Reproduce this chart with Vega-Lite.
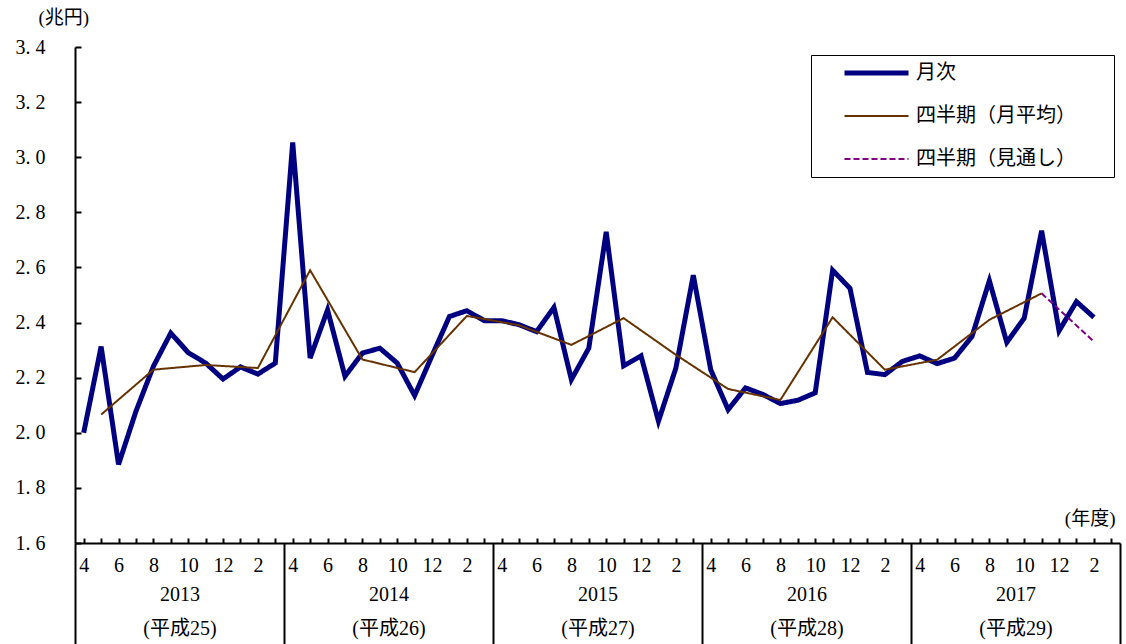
{
  "$schema": "https://vega.github.io/schema/vega-lite/v6.json",
  "width": 1045,
  "height": 496,
  "autosize": "none",
  "padding": {"left": 75, "top": 47, "right": 6, "bottom": 101},
  "background": "white",
  "config": {
    "view": {"stroke": null},
    "axis": {
      "grid": false,
      "labelFont": "'Liberation Serif', 'Noto Sans CJK JP'",
      "titleFont": "'Liberation Serif', 'Noto Sans CJK JP'",
      "labelColor": "black",
      "titleColor": "black",
      "domainColor": "black",
      "tickColor": "black",
      "titleFontWeight": "normal",
      "labelFontSize": 20,
      "labelFlush": false,
      "labelOverlap": false
    }
  },
  "data": {
    "values": [
      {"series": "月次", "t": 0, "value": 2.0},
      {"series": "月次", "t": 1, "value": 2.313},
      {"series": "月次", "t": 2, "value": 1.885},
      {"series": "月次", "t": 3, "value": 2.078},
      {"series": "月次", "t": 4, "value": 2.241},
      {"series": "月次", "t": 5, "value": 2.362},
      {"series": "月次", "t": 6, "value": 2.291},
      {"series": "月次", "t": 7, "value": 2.253},
      {"series": "月次", "t": 8, "value": 2.195},
      {"series": "月次", "t": 9, "value": 2.239},
      {"series": "月次", "t": 10, "value": 2.213},
      {"series": "月次", "t": 11, "value": 2.253},
      {"series": "月次", "t": 12, "value": 3.054},
      {"series": "月次", "t": 13, "value": 2.271},
      {"series": "月次", "t": 14, "value": 2.446},
      {"series": "月次", "t": 15, "value": 2.205},
      {"series": "月次", "t": 16, "value": 2.289},
      {"series": "月次", "t": 17, "value": 2.307},
      {"series": "月次", "t": 18, "value": 2.253},
      {"series": "月次", "t": 19, "value": 2.135},
      {"series": "月次", "t": 20, "value": 2.28},
      {"series": "月次", "t": 21, "value": 2.422},
      {"series": "月次", "t": 22, "value": 2.443},
      {"series": "月次", "t": 23, "value": 2.407},
      {"series": "月次", "t": 24, "value": 2.407},
      {"series": "月次", "t": 25, "value": 2.392},
      {"series": "月次", "t": 26, "value": 2.367},
      {"series": "月次", "t": 27, "value": 2.455},
      {"series": "月次", "t": 28, "value": 2.193},
      {"series": "月次", "t": 29, "value": 2.307},
      {"series": "月次", "t": 30, "value": 2.729},
      {"series": "月次", "t": 31, "value": 2.243},
      {"series": "月次", "t": 32, "value": 2.279},
      {"series": "月次", "t": 33, "value": 2.042},
      {"series": "月次", "t": 34, "value": 2.235},
      {"series": "月次", "t": 35, "value": 2.572},
      {"series": "月次", "t": 36, "value": 2.229},
      {"series": "月次", "t": 37, "value": 2.084},
      {"series": "月次", "t": 38, "value": 2.163},
      {"series": "月次", "t": 39, "value": 2.139},
      {"series": "月次", "t": 40, "value": 2.106},
      {"series": "月次", "t": 41, "value": 2.118},
      {"series": "月次", "t": 42, "value": 2.145},
      {"series": "月次", "t": 43, "value": 2.59},
      {"series": "月次", "t": 44, "value": 2.524},
      {"series": "月次", "t": 45, "value": 2.219},
      {"series": "月次", "t": 46, "value": 2.211},
      {"series": "月次", "t": 47, "value": 2.259},
      {"series": "月次", "t": 48, "value": 2.279},
      {"series": "月次", "t": 49, "value": 2.251},
      {"series": "月次", "t": 50, "value": 2.271},
      {"series": "月次", "t": 51, "value": 2.349},
      {"series": "月次", "t": 52, "value": 2.552},
      {"series": "月次", "t": 53, "value": 2.328},
      {"series": "月次", "t": 54, "value": 2.416},
      {"series": "月次", "t": 55, "value": 2.733},
      {"series": "月次", "t": 56, "value": 2.37},
      {"series": "月次", "t": 57, "value": 2.476},
      {"series": "月次", "t": 58, "value": 2.419},
      {"series": "四半期（月平均）", "t": 1, "value": 2.066},
      {"series": "四半期（月平均）", "t": 4, "value": 2.229},
      {"series": "四半期（月平均）", "t": 7, "value": 2.246},
      {"series": "四半期（月平均）", "t": 10, "value": 2.235},
      {"series": "四半期（月平均）", "t": 13, "value": 2.59},
      {"series": "四半期（月平均）", "t": 16, "value": 2.266},
      {"series": "四半期（月平均）", "t": 19, "value": 2.22},
      {"series": "四半期（月平均）", "t": 22, "value": 2.424},
      {"series": "四半期（月平均）", "t": 25, "value": 2.39},
      {"series": "四半期（月平均）", "t": 28, "value": 2.319},
      {"series": "四半期（月平均）", "t": 31, "value": 2.416},
      {"series": "四半期（月平均）", "t": 34, "value": 2.283},
      {"series": "四半期（月平均）", "t": 37, "value": 2.159},
      {"series": "四半期（月平均）", "t": 40, "value": 2.119},
      {"series": "四半期（月平均）", "t": 43, "value": 2.419},
      {"series": "四半期（月平均）", "t": 46, "value": 2.229},
      {"series": "四半期（月平均）", "t": 49, "value": 2.265},
      {"series": "四半期（月平均）", "t": 52, "value": 2.41},
      {"series": "四半期（月平均）", "t": 55, "value": 2.506},
      {"series": "四半期（見通し）", "t": 55, "value": 2.506},
      {"series": "四半期（見通し）", "t": 58, "value": 2.331}
    ]
  },
  "encoding": {
    "y": {
      "field": "value",
      "type": "quantitative",
      "scale": {"domain": [1.6, 3.4], "nice": false, "zero": false},
      "axis": {
        "orient": "left",
        "values": [1.6, 1.8, 2.0, 2.2, 2.4, 2.6, 2.8, 3.0, 3.2, 3.4],
        "labelExpr": "replace(format(datum.value, '.1f'), '.', '. ')",
        "labelFont": "'Liberation Serif', 'Noto Sans CJK JP'",
        "labelFontSize": 20,
        "tickSize": -6,
        "tickWidth": 2,
        "domainWidth": 2,
        "labelPadding": 36,
        "title": "(兆円)",
        "titleFont": "'Liberation Serif', 'Noto Sans CJK JP'",
        "titleAngle": 0,
        "titleAlign": "left",
        "titleBaseline": "middle",
        "titleX": -37,
        "titleY": -30,
        "titleFontSize": 19
      }
    },
    "color": {
      "field": "series",
      "type": "nominal",
      "scale": {
        "domain": ["月次", "四半期（月平均）", "四半期（見通し）"],
        "range": ["#000080", "#663300", "#800080"]
      },
      "legend": {
        "title": null,
        "orient": "none",
        "legendX": 736,
        "legendY": 8,
        "direction": "vertical",
        "fillColor": "white",
        "strokeColor": "black",
        "padding": 8,
        "symbolOffset": 23,
        "symbolType": "stroke",
        "symbolSize": 4096,
        "clipHeight": 20,
        "labelFont": "'Liberation Serif', 'Noto Sans CJK JP'",
        "labelFontSize": 20,
        "labelColor": "black",
        "labelOffset": 5,
        "labelLimit": 400,
        "labelExpr": "datum.label + '\u2800\u2800'",
        "rowPadding": 23
      }
    },
    "strokeDash": {
      "field": "series",
      "type": "nominal",
      "scale": {
        "domain": ["月次", "四半期（月平均）", "四半期（見通し）"],
        "range": [[1, 0], [1, 0], [6, 3]]
      }
    },
    "strokeWidth": {
      "field": "series",
      "type": "nominal",
      "scale": {
        "type": "ordinal",
        "domain": ["月次", "四半期（月平均）", "四半期（見通し）"],
        "range": [5, 2, 2]
      }
    }
  },
  "layer": [
    {
      "transform": [{"filter": "datum.series === '月次'"}],
      "mark": {"type": "line"},
      "encoding": {
        "x": {
          "field": "t",
          "type": "quantitative",
          "scale": {"domain": [-0.5, 59.5], "nice": false, "zero": false},
          "axis": {
            "orient": "bottom",
            "values": [0,1,2,3,4,5,6,7,8,9,10,11,12,13,14,15,16,17,18,19,20,21,22,23,24,25,26,27,28,29,30,31,32,33,34,35,36,37,38,39,40,41,42,43,44,45,46,47,48,49,50,51,52,53,54,55,56,57,58,59],
            "labelExpr": "datum.value % 2 == 0 ? '' + ((datum.value + 3) % 12 + 1) : ''",
            "labelFont": "'Liberation Serif', 'Noto Sans CJK JP'",
            "labelFontSize": 20,
            "tickSize": -5,
            "tickWidth": 2,
            "domainWidth": 2,
            "labelPadding": 17,
            "title": null
          }
        }
      }
    },
    {
      "transform": [{"filter": "datum.series === '四半期（月平均）'"}],
      "mark": {"type": "line"},
      "encoding": {
        "x": {
          "field": "t",
          "type": "quantitative",
          "scale": {"domain": [-0.5, 59.5], "nice": false, "zero": false},
          "axis": {
            "orient": "bottom",
            "values": [5.5, 17.5, 29.5, 41.5, 53.5],
            "labelExpr": "['' + (2013 + (datum.value - 5.5) / 12), '(平成' + (25 + (datum.value - 5.5) / 12) + ')']",
            "labelFont": "'Liberation Serif', 'Noto Sans CJK JP'",
            "labelFontSize": 20,
            "labelLineHeight": 34,
            "labelBaseline": "top",
            "ticks": false,
            "domain": false,
            "labelPadding": 41,
            "title": null
          }
        }
      }
    },
    {
      "transform": [{"filter": "datum.series === '四半期（見通し）'"}],
      "mark": {"type": "line"},
      "encoding": {
        "x": {
          "field": "t",
          "type": "quantitative",
          "scale": {"domain": [-0.5, 59.5], "nice": false, "zero": false},
          "axis": {
            "orient": "bottom",
            "values": [-0.5, 11.5, 23.5, 35.5, 47.5, 59.5],
            "tickSize": 101,
            "tickWidth": 2,
            "domain": false,
            "labels": false,
            "title": "(年度)",
            "titleFont": "'Liberation Serif', 'Noto Sans CJK JP'",
            "titleX": 1040,
            "titleY": -25,
            "titleAlign": "right",
            "titleAnchor": "end",
            "titleBaseline": "middle",
            "titleFontSize": 19
          }
        }
      }
    }
  ],
  "resolve": {"axis": {"x": "independent"}}
}
